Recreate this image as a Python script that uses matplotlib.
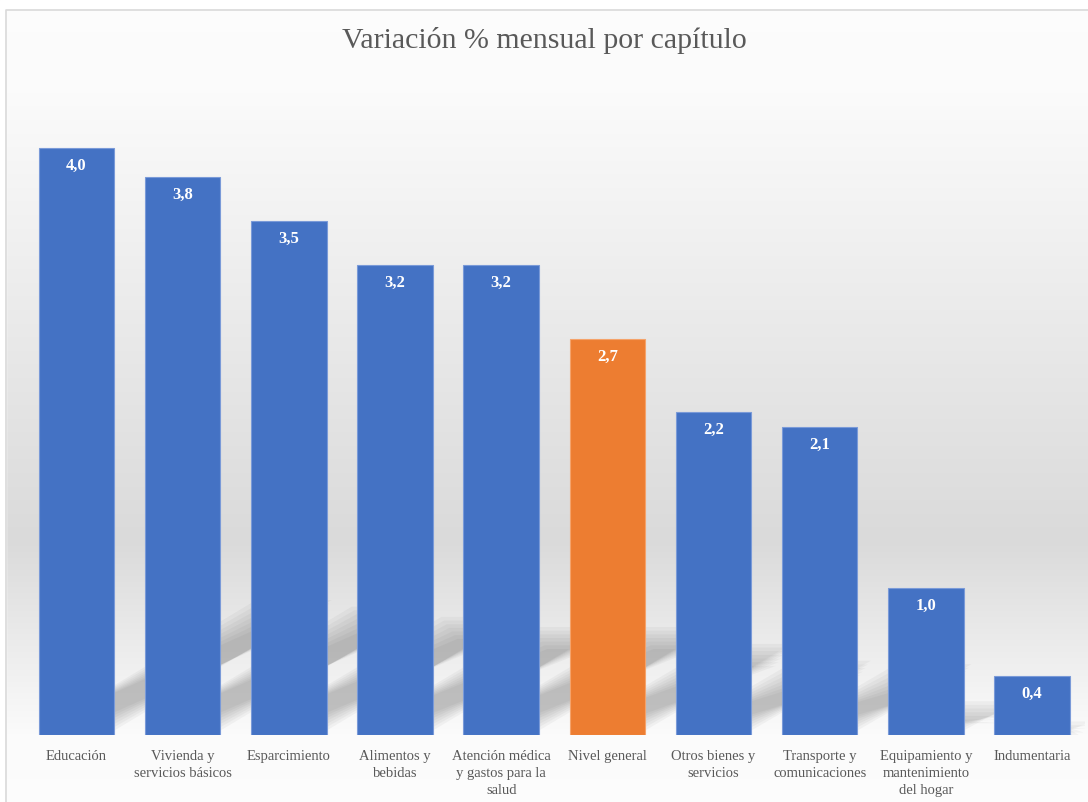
import numpy as np
import matplotlib
matplotlib.use("Agg")
from matplotlib import pyplot as plt
from matplotlib.patches import Polygon, Rectangle

# datos
categorias = ["Educación", "Vivienda y\nservicios básicos", "Esparcimiento",
              "Alimentos y\nbebidas", "Atención médica\ny gastos para la\nsalud",
              "Nivel general", "Otros bienes y\nservicios", "Transporte y\ncomunicaciones",
              "Equipamiento y\nmantenimiento\ndel hogar", "Indumentaria"]
valores = [4.0, 3.8, 3.5, 3.2, 3.2, 2.7, 2.2, 2.1, 1.0, 0.4]
etiquetas = ["4,0", "3,8", "3,5", "3,2", "3,2", "2,7", "2,2", "2,1", "1,0", "0,4"]
destacado = "Nivel general"

azul = "#4472C4"
naranja = "#ED7D31"
gris_texto = "#595959"

plt.rcParams['font.family'] = ['Liberation Serif', 'DejaVu Serif']

W, H = 1088, 802
fig = plt.figure(figsize=(W / 100, H / 100), dpi=100)
fig.patch.set_facecolor("white")

# fondo con degradado
bg = fig.add_axes([0, 0, 1, 1], zorder=0)
filas = np.arange(H)
tono = np.interp(filas, [0, 90, 540, 735, H], [0.99, 0.985, 0.855, 0.985, 0.99])
img = np.repeat(tono[:, None, None], 3, axis=2)
bg.imshow(img, aspect="auto", extent=[0, W, H, 0], interpolation="nearest")
bg.add_patch(Rectangle((0, 0), 6, H, color="white", zorder=2))
bg.add_patch(Rectangle((0, 0), W, 10, color="white", zorder=2))
bg.plot([6, 6, W], [H, 10, 10], color="#d9d9d9", lw=1.2, zorder=3)
bg.set_xlim(0, W)
bg.set_ylim(H, 0)
bg.axis("off")

ax = fig.add_axes([23.4 / W, 1 - 735 / H, 1061.7 / W, (735 - 89.3) / H], zorder=1)
ax.patch.set_alpha(0)

x = np.arange(len(valores))
ancho = 0.71

# sombras en perspectiva (muy inclinadas hacia la derecha)
pendiente = 0.449
for i, v in zip(x, valores):
    h = 0.23 * v
    dx = h / pendiente
    for k in range(7):
        e = 0.025 * k
        y0 = 0.03 + e * 0.5
        pts = [(i - ancho / 2 + e, y0), (i + ancho / 2 - e, y0),
               (i + ancho / 2 + dx - e, h - e), (i - ancho / 2 + dx + e, h - e)]
        ax.add_patch(Polygon(pts, closed=True, facecolor="#303030", edgecolor="none",
                             alpha=0.045, zorder=1))

colores = [naranja if c == destacado else azul for c in categorias]
bordes = ["#F5A36B" if c == destacado else "#7A9AD8" for c in categorias]
ax.bar(x, valores, width=ancho, color=colores, edgecolor=bordes, linewidth=0.8, zorder=2)

for i, v, t in zip(x, valores, etiquetas):
    ax.text(i, v - 0.12, t, ha="center", va="center", color="white",
            fontsize=12, fontweight="bold", zorder=3)

ax.set_xlim(-0.5, len(valores) - 0.5)
ax.set_ylim(0, 4.4)
ax.set_xticks(x)
ax.set_xticklabels(categorias, fontsize=10.5, color=gris_texto, linespacing=1.4)
ax.tick_params(axis="x", length=0, pad=10.5)
ax.set_yticks([])
for s in ax.spines.values():
    s.set_visible(False)

fig.text(0.5, 1 - 40 / H, "Variación % mensual por capítulo", ha="center", va="center",
         fontsize=21.5, color=gris_texto)

fig.savefig("out.png", dpi=100)
